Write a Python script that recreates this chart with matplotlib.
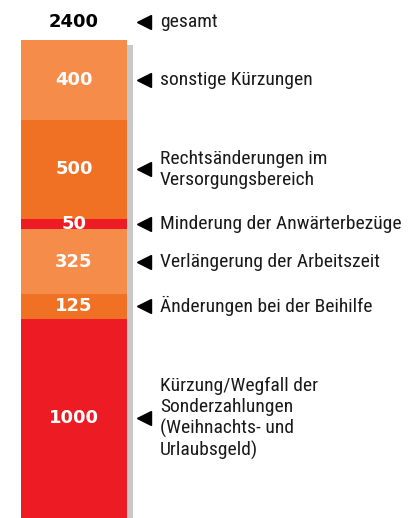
import matplotlib
matplotlib.use("Agg")
import matplotlib.pyplot as plt

values = [1000, 125, 325, 50, 500, 400]
labels = [
    "Kürzung/Wegfall der\nSonderzahlungen\n(Weihnachts- und\nUrlaubsgeld)",
    "Änderungen bei der Beihilfe",
    "Verlängerung der Arbeitszeit",
    "Minderung der Anwärterbezüge",
    "Rechtsänderungen im\nVersorgungsbereich",
    "sonstige Kürzungen",
]
colors = ["#ED1C24", "#F07124", "#F68C4A", "#ED1C24", "#F07124", "#F68C4A"]
total_label = "gesamt"
total = sum(values)

W, H = 414, 518
fig = plt.figure(figsize=(W / 100, H / 100), dpi=100)
ax = fig.add_axes([0, 0, 1, 1])
ax.set_axis_off()

bar_px = 106.0
xmin = -0.5 - 21 / bar_px
ax.set_xlim(xmin, xmin + W / bar_px)
ppu = 478.0 / total  # pixels per unit
ax.set_ylim(0, H / ppu)

# shadow
ax.bar(0 + 6 / bar_px, total, width=1, bottom=-5 / ppu, color="#C8C8C8", zorder=1)

lab_font = ["Roboto Condensed", "DejaVu Sans"]
num_font = ["DejaVu Sans"]
bottom = 0
for v, lab, c in zip(values, labels, colors):
    ax.bar(0, v, width=1, bottom=bottom, color=c, zorder=2)
    yc = bottom + v / 2
    ax.text(0, yc, str(v), ha="center", va="center", color="white",
            fontsize=13, fontweight="bold", family=num_font, zorder=3)
    ax.plot([0.665], [yc], marker="<", color="black", markersize=10, zorder=3)
    ax.text(0.811, yc, lab, ha="left", va="center", color="#1a1a1a",
            fontsize=14, family=lab_font, linespacing=1.18, zorder=3)
    bottom += v

ytot = total + (40 - 22) / ppu
ax.text(0, ytot, str(total), ha="center", va="center", color="black",
        fontsize=13, fontweight="bold", family=num_font)
ax.plot([0.665], [ytot], marker="<", color="black", markersize=10)
ax.text(0.811, ytot, total_label, ha="left", va="center", color="#1a1a1a",
        fontsize=14, family=lab_font)

fig.savefig("out.png", dpi=100)
